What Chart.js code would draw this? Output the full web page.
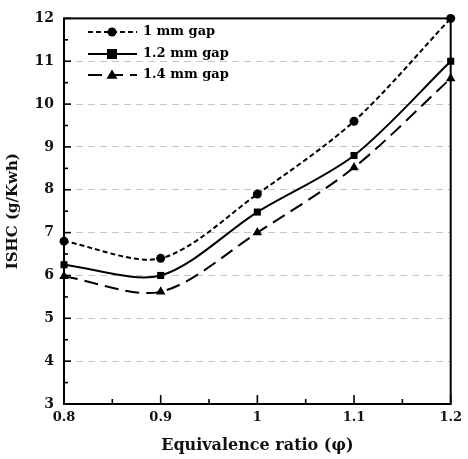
<!DOCTYPE html>
<html><head><meta charset="utf-8">
<script src="https://cdn.jsdelivr.net/npm/chart.js@4/dist/chart.umd.min.js"></script>
<style>html,body{margin:0;padding:0;background:#fff}#wrap{width:468px;height:459px}</style>
</head><body><div id="wrap"><canvas id="c" width="468" height="459"></canvas></div>
<script>
const xValues = [0.8, 0.9, 1.0, 1.1, 1.2];
const gap1 = [6.8, 6.4, 7.9, 9.6, 12.0];
const gap12 = [6.25, 6.0, 7.48, 8.8, 11.0];
const gap14 = [5.98, 5.62, 7.0, 8.52, 10.6];
const seriesNames = ['1 mm gap', '1.2 mm gap', '1.4 mm gap'];
const xTickLabels = ['0.8', '0.9', '1', '1.1', '1.2'];
const yTickValues = [3, 4, 5, 6, 7, 8, 9, 10, 11, 12];

const FONT = 'DejaVu Serif';
const toPts = arr => arr.map((y, i) => ({x: xValues[i], y}));

const styles = [
  {dash: [5, 3], point: 'circle', r: 4.5},
  {dash: [], point: 'rect', r: 5},
  {dash: [14, 7], point: 'triangle', r: 5.5}
];
const datasets = [gap1, gap12, gap14].map((d, i) => ({
  label: seriesNames[i],
  data: toPts(d),
  borderColor: '#000',
  backgroundColor: '#000',
  borderWidth: 2,
  borderDash: styles[i].dash,
  pointStyle: styles[i].point,
  pointRadius: styles[i].r,
  pointBorderWidth: 0,
  tension: 0.3,
  cubicInterpolationMode: 'default',
  clip: false
}));

const framePlugin = {
  id: 'frame',
  afterDraw(chart) {
    const {ctx, chartArea: a, scales: {x, y}} = chart;
    ctx.save();
    ctx.strokeStyle = '#000';
    ctx.lineWidth = 2;
    ctx.setLineDash([]);
    ctx.strokeRect(a.left, a.top, a.right - a.left, a.bottom - a.top);
    ctx.lineWidth = 1.6;
    for (let i = 0; i < xValues.length; i++) {
      const px = x.getPixelForValue(xValues[i]);
      ctx.beginPath(); ctx.moveTo(px, a.bottom); ctx.lineTo(px, a.bottom - 9); ctx.stroke();
      if (i < xValues.length - 1) {
        const pm = x.getPixelForValue((xValues[i] + xValues[i + 1]) / 2);
        ctx.beginPath(); ctx.moveTo(pm, a.bottom); ctx.lineTo(pm, a.bottom - 5); ctx.stroke();
      }
    }
    for (let i = 0; i < yTickValues.length; i++) {
      const py = y.getPixelForValue(yTickValues[i]);
      ctx.beginPath(); ctx.moveTo(a.left, py); ctx.lineTo(a.left + 7, py); ctx.stroke();
      if (i < yTickValues.length - 1) {
        const pm = y.getPixelForValue(yTickValues[i] + 0.5);
        ctx.beginPath(); ctx.moveTo(a.left, pm); ctx.lineTo(a.left + 4, pm); ctx.stroke();
      }
    }
    // legend
    const ly = [32, 54, 75];
    ctx.font = 'bold 13px ' + FONT;
    ctx.textBaseline = 'middle';
    ctx.fillStyle = '#000';
    datasets.forEach((ds, i) => {
      ctx.lineWidth = 2;
      ctx.setLineDash(styles[i].dash);
      ctx.beginPath(); ctx.moveTo(88, ly[i]); ctx.lineTo(137, ly[i]); ctx.stroke();
      ctx.setLineDash([]);
      const mx = 112, my = ly[i], r = styles[i].r;
      ctx.beginPath();
      if (styles[i].point === 'circle') ctx.arc(mx, my, r, 0, Math.PI * 2);
      else if (styles[i].point === 'rect') ctx.rect(mx - r, my - r, 2 * r, 2 * r);
      else { ctx.moveTo(mx, my - r); ctx.lineTo(mx + r, my + r * 0.7); ctx.lineTo(mx - r, my + r * 0.7); ctx.closePath(); }
      ctx.fill();
      ctx.fillText(ds.label, 143, my);
    });
    ctx.restore();
  }
};

new Chart(document.getElementById('c'), {
  type: 'line',
  data: {datasets},
  options: {
    responsive: false,
    animation: false,
    devicePixelRatio: 1,
    layout: {padding: {top: 13, right: 11, left: 0, bottom: 0}},
    plugins: {legend: {display: false}, tooltip: {enabled: false}},
    scales: {
      x: {
        type: 'linear', min: 0.8, max: 1.2,
        afterFit(s) { s.height = 55; },
        ticks: {
          stepSize: 0.1, maxRotation: 0, padding: 6,
          color: '#111', font: {family: FONT, weight: 'bold', size: 13},
          callback(v) {
            const i = xValues.findIndex(t => Math.abs(t - v) < 1e-6);
            return i >= 0 ? xTickLabels[i] : '';
          }
        },
        grid: {display: false, drawTicks: false},
        border: {display: false},
        title: {display: true, text: 'Equivalence ratio (φ)', color: '#111',
          font: {family: FONT, weight: 'bold', size: 16}, padding: {top: 1}}
      },
      y: {
        min: 3, max: 12,
        afterFit(s) { s.width = 64; },
        ticks: {stepSize: 1, padding: 10, color: '#111',
          font: {family: FONT, weight: 'bold', size: 14}},
        grid: {
          drawTicks: false,
          color: c => (c.tick && c.tick.value > 3 && c.tick.value < 12) ? '#c4c4c4' : 'rgba(0,0,0,0)',
          lineWidth: 1
        },
        border: {display: false, dash: [7, 5]},
        title: {display: true, text: 'ISHC (g/Kwh)', color: '#111',
          font: {family: FONT, weight: 'bold', size: 15}, padding: {bottom: 2}}
      }
    }
  },
  plugins: [framePlugin]
});
</script></body></html>
